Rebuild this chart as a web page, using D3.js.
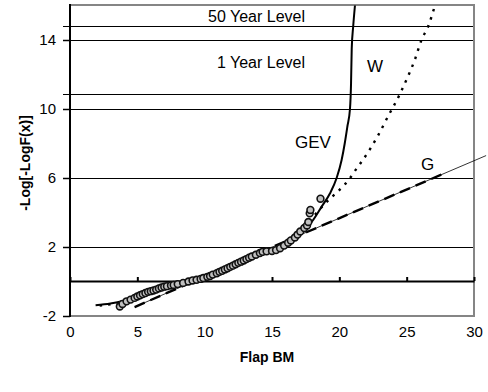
<!DOCTYPE html>
<html>
<head>
<meta charset="utf-8">
<script src="https://cdn.jsdelivr.net/npm/d3@7"></script>
<style>
  body { margin: 0; background: #fff; }
  svg { font-family: "Liberation Sans", Arial, sans-serif; }
</style>
</head>
<body>
<svg id="chart" width="488" height="392"></svg>
<script>
// observed points (sorted), Gumbel plotting positions
let obsX = [3.7, 3.9, 4.2, 4.5, 4.8, 5.0, 5.2, 5.4, 5.6, 5.8, 6.0, 6.2, 6.4, 6.6, 6.8, 7.0, 7.2, 7.5, 7.7, 8.0,
            8.4, 8.8, 9.1, 9.4, 9.7, 9.9, 10.2, 10.4, 10.6, 10.9, 11.1, 11.3, 11.5, 11.7, 11.9, 12.1, 12.3, 12.5,
            12.7, 12.9, 13.1, 13.3, 13.5, 13.8, 14.1, 14.3, 14.6, 15.0, 15.3, 15.6, 15.9, 16.2, 16.4, 16.7, 16.9,
            17.1, 17.4, 17.6, 17.7, 17.8, 17.85, 18.6];
let obsY = [-1.45, -1.3, -1.15, -1.05, -0.95, -0.87, -0.8, -0.73, -0.67, -0.6, -0.56, -0.52, -0.47, -0.4, -0.35,
            -0.3, -0.27, -0.23, -0.2, -0.15, -0.08, 0.0, 0.06, 0.1, 0.15, 0.2, 0.27, 0.32, 0.4, 0.48, 0.56, 0.62,
            0.7, 0.77, 0.85, 0.92, 1.0, 1.08, 1.15, 1.22, 1.3, 1.38, 1.45, 1.55, 1.65, 1.72, 1.75, 1.77, 1.82,
            1.93, 2.08, 2.25, 2.38, 2.55, 2.72, 2.9, 3.1, 3.25, 3.45, 3.95, 4.15, 4.8];

// fitted curves
let gevX = [1.9, 3.0, 4.0, 5.0, 6.0, 7.0, 8.0, 9.0, 10.0, 11.0, 12.0, 13.0, 14.0, 15.0, 16.0, 17.0, 17.5,
            18.06, 18.69, 19.3, 19.8, 20.17, 20.4, 20.6, 20.79, 20.87, 20.92, 21.03, 21.16];
let gevY = [-1.38, -1.28, -1.12, -0.88, -0.6, -0.33, -0.12, 0.08, 0.28, 0.52, 0.85, 1.2, 1.55, 1.85, 2.3, 2.85,
            3.05, 3.57, 4.34, 5.1, 6.0, 7.04, 8.0, 9.0, 10.0, 11.5, 13.5, 14.8, 16.0];
let wX = [2.2, 3.5, 5, 7, 9, 11, 13, 15, 16.5, 17.5, 18.3, 19.2, 20.0, 20.8, 21.2, 21.66, 22.3, 22.9, 23.6,
          24.5, 25.1, 25.6, 26.1, 26.6, 27.1];
let wY = [-1.4, -1.25, -0.95, -0.4, 0.05, 0.5, 1.2, 1.8, 2.5, 3.2, 3.97, 4.72, 5.3, 6.0, 6.46, 6.95, 7.7, 8.5,
          9.55, 10.87, 11.9, 12.84, 14.0, 14.8, 16.0];
let gX = [4.8, 17.6, 30.9];
let gY = [-1.48, 2.87, 7.3];

let levelNames = ["50 Year Level", "1 Year Level"];
let levelValues = [14.81, 10.87];

let xTicks = [0, 5, 10, 15, 20, 25, 30];
let yTicks = [-2, 2, 6, 10, 14];

let svg = d3.select('#chart');
let x = d3.scaleLinear().domain([0, 30]).range([70, 474]);
let y = d3.scaleLinear().domain([-2, 16]).range([316, 5.5]);
let crisp = v => Math.round(v) + 0.5;

// gridlines
svg.selectAll('.grid')
    .data([2, 6, 10, 14])
    .enter()
    .append('line')
    .attr('x1', 70).attr('x2', 474)
    .attr('y1', d => crisp(y(d))).attr('y2', d => crisp(y(d)))
    .attr('stroke', '#000').attr('stroke-width', 1);

// level lines
svg.selectAll('.level')
    .data(levelValues)
    .enter()
    .append('line')
    .attr('x1', 63).attr('x2', 474)
    .attr('y1', d => crisp(y(d))).attr('y2', d => crisp(y(d)))
    .attr('stroke', '#000').attr('stroke-width', 1);

svg.selectAll('.levelText')
    .data(levelNames)
    .enter()
    .append('text')
    .attr('x', 305)
    .attr('y', (d, i) => i == 0 ? 22 : 68)
    .attr('text-anchor', 'end')
    .attr('font-size', 16)
    .text(d => d);

// plot border
svg.append('path')
    .attr('d', 'M70,5H474V316H70')
    .attr('fill', 'none').attr('stroke', '#858585').attr('stroke-width', 2);

// y axis
let yAxis = svg.append('g')
    .attr('transform', 'translate(70,0)')
    .call(d3.axisLeft(y).tickValues(yTicks).tickSize(7).tickPadding(7).tickFormat(d => String(d)));
yAxis.select('.domain').remove();
yAxis.selectAll('.tick').attr('transform', d => 'translate(0,' + crisp(y(d)) + ')');
yAxis.selectAll('.tick line').attr('stroke-width', 1.5);
yAxis.selectAll('text').attr('font-size', 15).attr('fill', '#000').attr('font-family', null);
svg.append('line')
    .attr('x1', 70).attr('x2', 70).attr('y1', 4).attr('y2', 317)
    .attr('stroke', '#000').attr('stroke-width', 2);

// x axis at y = 0
let xAxis = svg.append('g')
    .attr('transform', 'translate(0,' + Math.round(y(0)) + ')')
    .call(d3.axisBottom(x).tickValues(xTicks).tickSizeInner(-4).tickSizeOuter(0).tickPadding(45));
xAxis.select('.domain').attr('stroke-width', 2);
xAxis.selectAll('.tick line').attr('stroke-width', 2);
xAxis.selectAll('text').attr('font-size', 15).attr('fill', '#000').attr('font-family', null);

// curves
let line = d3.line()
    .x(d => x(d[0]))
    .y(d => y(d[1]))
    .curve(d3.curveMonotoneX);

let gPts = d3.zip(gX, gY);
svg.append('path')
    .attr('d', d3.line().x(d => x(d[0])).y(d => y(d[1]))(gPts))
    .attr('fill', 'none').attr('stroke', '#000').attr('stroke-width', 0.8);
svg.append('clipPath').attr('id', 'gclip')
    .append('rect').attr('x', 0).attr('y', 0).attr('width', x(27.9)).attr('height', 392);
svg.append('path')
    .attr('d', d3.line().x(d => x(d[0])).y(d => y(d[1]))(gPts))
    .attr('clip-path', 'url(#gclip)')
    .attr('fill', 'none').attr('stroke', '#000').attr('stroke-width', 2.4)
    .attr('stroke-dasharray', '11,6');

svg.append('path')
    .attr('d', line(d3.zip(wX, wY)))
    .attr('fill', 'none').attr('stroke', '#000').attr('stroke-width', 2.4)
    .attr('stroke-dasharray', '2.5,6');

svg.append('path')
    .attr('d', line(d3.zip(gevX, gevY)))
    .attr('fill', 'none').attr('stroke', '#000').attr('stroke-width', 2);

// observed
svg.selectAll('.obs')
    .data(d3.zip(obsX, obsY))
    .enter()
    .append('circle')
    .attr('cx', d => x(d[0]))
    .attr('cy', d => y(d[1]))
    .attr('r', 3.4)
    .attr('fill', '#c0c0c0')
    .attr('stroke', '#111')
    .attr('stroke-width', 1.6);

// curve labels
let curveLabels = [['W', 367, 72], ['GEV', 295, 148], ['G', 421, 170]];
svg.selectAll('.clab')
    .data(curveLabels)
    .enter()
    .append('text')
    .attr('x', d => d[1]).attr('y', d => d[2])
    .attr('font-size', 17)
    .text(d => d[0]);

// axis titles
svg.append('text')
    .attr('x', 267).attr('y', 362)
    .attr('text-anchor', 'middle')
    .attr('font-size', 14).attr('font-weight', 'bold')
    .text('Flap BM');

svg.append('text')
    .attr('transform', 'translate(30,163) rotate(-90)')
    .attr('text-anchor', 'middle')
    .attr('font-size', 14).attr('font-weight', 'bold')
    .text('-Log[-LogF(x)]');
</script>
</body>
</html>
